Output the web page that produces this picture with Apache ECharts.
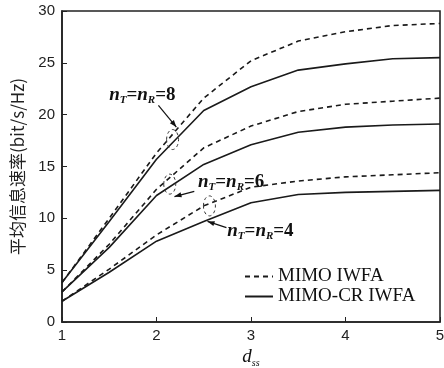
<!DOCTYPE html>
<html><head><meta charset="utf-8">
<script src="https://cdn.jsdelivr.net/npm/echarts@6/dist/echarts.min.js"></script>
<style>html,body{margin:0;padding:0;background:#fff}#c{width:444px;height:368px}</style>
</head><body><div id="c"></div>
<script>
// ---- data ----
const xValues = [1, 1.5, 2, 2.5, 3, 3.5, 4, 4.5, 5];
const mimo8   = [3.8, 10.0, 16.3, 21.6, 25.2, 27.1, 28.0, 28.6, 28.8];
const mimoCR8 = [3.8, 9.7, 15.7, 20.4, 22.7, 24.3, 24.9, 25.4, 25.5];
const mimo6   = [2.9, 7.5, 12.8, 16.8, 18.9, 20.3, 21.0, 21.3, 21.6];
const mimoCR6 = [2.9, 7.2, 12.2, 15.2, 17.1, 18.3, 18.8, 19.0, 19.1];
const mimo4   = [2.0, 5.1, 8.4, 11.2, 13.0, 13.6, 14.0, 14.2, 14.4];
const mimoCR4 = [2.0, 4.8, 7.8, 9.7, 11.5, 12.3, 12.5, 12.6, 12.7];
const legendNames = ['MIMO IWFA', 'MIMO-CR IWFA'];
const antennaLabels = ['8', '6', '4'];
const yTitle = '平均信息速率(bit/s/Hz)';

// annotation anchors (data coordinates)
const annotAnchors = [
  {text: [1.85, 21.9], from: [2.02, 20.9], to: [2.21, 18.8], ell: [2.17, 17.6]},
  {text: [2.79, 13.5], from: [2.40, 12.6], to: [2.19, 12.1], ell: [2.14, 13.3]},
  {text: [3.10, 8.8],  from: [2.74, 9.1],  to: [2.54, 9.7],  ell: [2.56, 11.2]}
];

const pairs = (ys) => xValues.map((x, i) => [x, ys[i]]);
const ink = '#1a1a1a';
const dashed = {color: ink, width: 1.6, type: [5, 4]};
const solid = {color: ink, width: 1.6, type: 'solid'};

const chart = echarts.init(document.getElementById('c'), null, {renderer: 'canvas'});
const mk = (name, ys, ls) => ({
  name, type: 'line', data: pairs(ys), symbol: 'none', showSymbol: false,
  lineStyle: ls, itemStyle: {color: ink}, animation: false, smooth: false
});
const option = {
  animation: false,
  backgroundColor: '#fff',
  grid: {left: 62, right: 4, top: 11, bottom: 46, containLabel: false, outerBoundsMode: 'none',
    show: true, borderColor: '#222', borderWidth: 1.6},
  legend: {
    data: legendNames, orient: 'vertical', left: 239, top: 262,
    itemWidth: 28, itemHeight: 14, itemGap: 1,
    itemStyle: {opacity: 0},
    textStyle: {fontFamily: 'Liberation Serif', fontSize: 19, color: '#111'},
    selectedMode: false
  },
  xAxis: {
    type: 'value', min: 1, max: 5, interval: 1,
    name: '{d|d}{s|ss}', nameLocation: 'middle', nameGap: 24,
    nameTextStyle: {rich: {
      d: {fontFamily: 'Liberation Serif', fontStyle: 'italic', fontSize: 19, color: '#111'},
      s: {fontFamily: 'Liberation Serif', fontStyle: 'italic', fontSize: 10, color: '#111', padding: [12, 0, 0, 0]}
    }},
    axisLine: {lineStyle: {color: '#222', width: 1.6}},
    axisTick: {inside: true, length: 5, lineStyle: {color: '#222'}},
    axisLabel: {fontFamily: 'Liberation Sans', fontSize: 15, color: '#222', margin: 6},
    splitLine: {show: false}
  },
  yAxis: {
    type: 'value', min: 0, max: 30, interval: 5,
    name: yTitle, nameLocation: 'middle', nameGap: 36,
    nameTextStyle: {fontFamily: 'Noto Sans CJK SC', fontSize: 17, color: '#222'},
    axisLine: {show: true, lineStyle: {color: '#222', width: 1.6}},
    axisTick: {show: true, inside: true, length: 5, lineStyle: {color: '#222'}},
    axisLabel: {fontFamily: 'Liberation Sans', fontSize: 15, color: '#222', margin: 7},
    splitLine: {show: false}
  },
  series: [
    mk(legendNames[0], mimo8, dashed),
    mk(legendNames[1], mimoCR8, solid),
    mk(legendNames[0], mimo6, dashed),
    mk(legendNames[1], mimoCR6, solid),
    mk(legendNames[0], mimo4, dashed),
    mk(legendNames[1], mimoCR4, solid)
  ]
};
chart.setOption(option);

// annotations
const rich = {
  n: {fontFamily: 'Liberation Serif', fontStyle: 'italic', fontWeight: 'bold', fontSize: 19, fill: '#111'},
  s: {fontFamily: 'Liberation Serif', fontStyle: 'italic', fontWeight: 'bold', fontSize: 11, fill: '#111', padding: [11, 0, 0, 0]},
  e: {fontFamily: 'Liberation Serif', fontWeight: 'bold', fontSize: 19, fill: '#111'}
};
const px = (p) => chart.convertToPixel({gridIndex: 0}, p);
const elements = [];
annotAnchors.forEach((a, i) => {
  const t = px(a.text), f = px(a.from), to = px(a.to), e = px(a.ell);
  elements.push({
    type: 'text', x: t[0], y: t[1], z: 100,
    style: {text: '{n|n}{s|T}{e|=}{n|n}{s|R}{e|=' + antennaLabels[i] + '}', rich, align: 'center', verticalAlign: 'middle'}
  });
  elements.push({type: 'line', z: 100, shape: {x1: f[0], y1: f[1], x2: to[0], y2: to[1]}, style: {stroke: '#111', lineWidth: 1.2}});
  const ang = Math.atan2(to[1] - f[1], to[0] - f[0]);
  const L = 7, W = 2.6;
  const bx = to[0] - L * Math.cos(ang), by = to[1] - L * Math.sin(ang);
  elements.push({type: 'polygon', z: 100, shape: {points: [
    [to[0], to[1]],
    [bx + W * Math.sin(ang), by - W * Math.cos(ang)],
    [bx - W * Math.sin(ang), by + W * Math.cos(ang)]
  ]}, style: {fill: '#111'}});
  elements.push({type: 'ellipse', z: 100, shape: {cx: e[0], cy: e[1], rx: 6, ry: 10},
    style: {fill: 'none', stroke: '#333', lineWidth: 1, lineDash: [3, 3]}});
});
chart.setOption({graphic: {elements}});
</script>
</body></html>
